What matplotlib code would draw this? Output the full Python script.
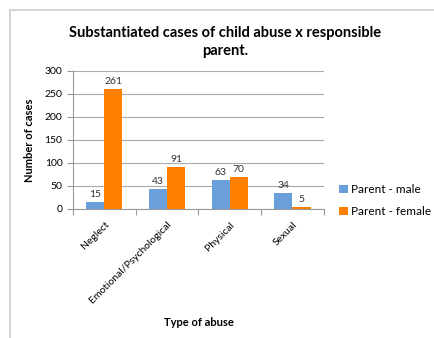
import matplotlib.pyplot as plt
from matplotlib.lines import Line2D
import numpy as np

plt.rcParams['font.family'] = ['Lato', 'DejaVu Sans']

categories = ['Neglect', 'Emotional/Psychological', 'Physical', 'Sexual']
male = [15, 43, 63, 34]
female = [261, 91, 70, 5]

fig = plt.figure(figsize=(4.34, 3.38), dpi=100)
ax = fig.add_axes([0.168, 0.382, 0.578, 0.408])

x = np.arange(len(categories))
w = 0.29
b1 = ax.bar(x - w / 2, male, w, color='#6a9fdc', label='Parent - male')
b2 = ax.bar(x + w / 2, female, w, color='#ff7f00', label='Parent - female')
for bars in (b1, b2):
    for r in bars:
        ax.text(r.get_x() + r.get_width() / 2, r.get_height() + 6, str(int(r.get_height())),
                ha='center', va='bottom', fontsize=7.5, color='#333333')

ax.set_xlim(-0.5, 3.5)
ax.set_ylim(0, 300)
ax.set_yticks(range(0, 301, 50))
ax.yaxis.grid(True, color='#aaaaaa', linewidth=0.8)
ax.set_axisbelow(True)
for s in ['top', 'right']:
    ax.spines[s].set_visible(False)
ax.spines['left'].set_color('#999999')
ax.spines['bottom'].set_color('#999999')
ax.set_xticks(np.arange(-0.5, 4, 1), minor=False)
ax.set_xticklabels([])
ax.set_xticks(x, minor=True)
ax.set_xticklabels(categories, minor=True, rotation=45, ha='right', rotation_mode='anchor', fontsize=7.5)
ax.tick_params(axis='x', which='minor', length=0, pad=8)
ax.tick_params(axis='x', which='major', length=4, color='#999999')
ax.tick_params(axis='y', labelsize=7.5, length=4, color='#999999')

ax.set_ylabel('Number of cases', fontsize=8, fontweight='bold')
ax.yaxis.set_label_coords(-0.15, 0.5)
fig.text(0.458, 0.035, 'Type of abuse', ha='center', fontsize=8, fontweight='bold')
fig.text(0.518, 0.875, 'Substantiated cases of child abuse x responsible\nparent.',
         ha='center', va='center', fontsize=10.5, fontweight='bold', linespacing=1.4)

ax.legend(loc='center left', bbox_to_anchor=(1.02, 0.06), frameon=False, fontsize=8.5,
          handlelength=0.7, handleheight=0.7, handletextpad=0.3, labelspacing=0.9)

fig.add_artist(Line2D([10 / 434, 10 / 434], [0, 1 - 10 / 338], color='#cccccc', lw=1.2))
fig.add_artist(Line2D([10 / 434, 1], [1 - 10 / 338, 1 - 10 / 338], color='#cccccc', lw=1.2))

fig.savefig('out.png')
